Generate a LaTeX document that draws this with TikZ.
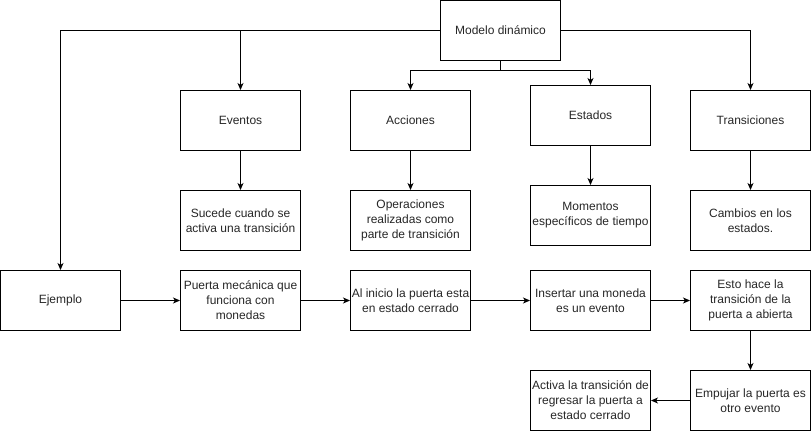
\documentclass[tikz,border=0pt]{standalone}
\usepackage{fontspec}
\setmainfont{Liberation Sans}
\usetikzlibrary{arrows.meta}
\begin{document}
\begin{tikzpicture}[x=1pt,y=-1pt,
  box/.style={draw=black,line width=1pt,minimum width=120pt,minimum height=60pt,inner sep=1pt,align=center,font=\fontsize{12}{15}\selectfont,text=black!85},
  conn/.style={draw=black,line width=1pt,-{Stealth[length=7pt,width=6pt,inset=2pt]}},
  line/.style={draw=black,line width=1pt}]
\useasboundingbox (-0.5,-0.5) rectangle (810.5,430.5);
\node[box] (modelo) at (500,30) {Modelo dinámico};
\node[box] (eventos) at (240,120) {Eventos};
\node[box] (acciones) at (410,120) {Acciones};
\node[box] (estados) at (590,115) {Estados};
\node[box] (trans) at (750,120) {Transiciones};
\node[box] (sucede) at (240,220) {Sucede cuando se\\activa una transición};
\node[box] (oper) at (410,220) {Operaciones\\realizadas como\\parte de transición};
\node[box] (momentos) at (590,215) {Momentos\\específicos de tiempo};
\node[box] (cambios) at (750,220) {Cambios en los\\estados.};
\node[box] (ejemplo) at (60,300) {Ejemplo};
\node[box] (puerta) at (240,300) {Puerta mecánica que\\funciona con\\monedas};
\node[box] (inicio) at (410,300) {Al inicio la puerta esta\\en estado cerrado};
\node[box] (insertar) at (590,300) {Insertar una moneda\\es un evento};
\node[box] (esto) at (750,300) {Esto hace la\\transición de la\\puerta a abierta};
\node[box] (empujar) at (750,400) {Empujar la puerta es\\otro evento};
\node[box] (activa) at (590,400) {Activa la transición de\\regresar la puerta a\\estado cerrado};
\coordinate (jl) at (60,30);
\coordinate (je) at (240,30);
\coordinate (jm) at (500,70);
\coordinate (ja) at (410,70);
\coordinate (js) at (590,70);
\coordinate (jt) at (750,30);
\draw[conn] (modelo.west) -- (jl) -- (ejemplo.north);
\draw[conn] (je) -- (eventos.north);
\draw[line] (modelo.south) -- (jm);
\draw[conn] (jm) -- (ja) -- (acciones.north);
\draw[conn] (jm) -- (js) -- (estados.north);
\draw[conn] (modelo.east) -- (jt) -- (trans.north);
\draw[conn] (eventos) -- (sucede);
\draw[conn] (acciones) -- (oper);
\draw[conn] (estados) -- (momentos);
\draw[conn] (trans) -- (cambios);
\draw[conn] (ejemplo) -- (puerta);
\draw[conn] (puerta) -- (inicio);
\draw[conn] (inicio) -- (insertar);
\draw[conn] (insertar) -- (esto);
\draw[conn] (esto) -- (empujar);
\draw[conn] (empujar) -- (activa);
\end{tikzpicture}
\end{document}
